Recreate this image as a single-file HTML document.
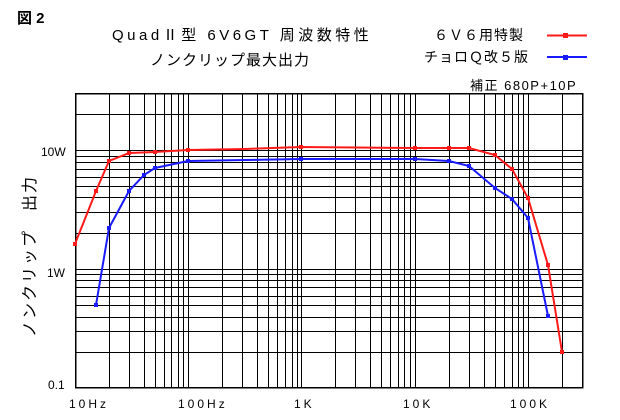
<!DOCTYPE html>
<html><head><meta charset="utf-8"><style>
html,body{margin:0;padding:0;background:#fff;}
svg{display:block;font-family:"Liberation Sans","Noto Sans CJK JP",sans-serif;}
</style></head><body>
<svg width="620" height="420" viewBox="0 0 620 420" xmlns="http://www.w3.org/2000/svg">
<rect width="620" height="420" fill="#fff"/>
<g stroke="#000" stroke-width="1" shape-rendering="crispEdges">
<line x1="75" y1="114.5" x2="583" y2="114.5"/>
<line x1="75" y1="150.5" x2="583" y2="150.5"/>
<line x1="75" y1="156.5" x2="583" y2="156.5"/>
<line x1="75" y1="162.5" x2="583" y2="162.5"/>
<line x1="75" y1="169.5" x2="583" y2="169.5"/>
<line x1="75" y1="177.5" x2="583" y2="177.5"/>
<line x1="75" y1="186.5" x2="583" y2="186.5"/>
<line x1="75" y1="197.5" x2="583" y2="197.5"/>
<line x1="75" y1="212.5" x2="583" y2="212.5"/>
<line x1="75" y1="233.5" x2="583" y2="233.5"/>
<line x1="75" y1="269.5" x2="583" y2="269.5"/>
<line x1="75" y1="274.5" x2="583" y2="274.5"/>
<line x1="75" y1="280.5" x2="583" y2="280.5"/>
<line x1="75" y1="287.5" x2="583" y2="287.5"/>
<line x1="75" y1="296.5" x2="583" y2="296.5"/>
<line x1="75" y1="305.5" x2="583" y2="305.5"/>
<line x1="75" y1="317.5" x2="583" y2="317.5"/>
<line x1="75" y1="331.5" x2="583" y2="331.5"/>
<line x1="75" y1="352.5" x2="583" y2="352.5"/>
</g>
<g stroke="#000" stroke-width="1" shape-rendering="crispEdges">
<line x1="109.5" y1="93" x2="109.5" y2="388"/><line x1="129.5" y1="93" x2="129.5" y2="388"/><line x1="144.5" y1="93" x2="144.5" y2="388"/><line x1="155.5" y1="93" x2="155.5" y2="388"/><line x1="164.5" y1="93" x2="164.5" y2="388"/><line x1="171.5" y1="93" x2="171.5" y2="388"/><line x1="178.5" y1="93" x2="178.5" y2="388"/><line x1="183.5" y1="93" x2="183.5" y2="388"/><line x1="188.5" y1="93" x2="188.5" y2="388"/>
<line x1="222.5" y1="93" x2="222.5" y2="388"/><line x1="242.5" y1="93" x2="242.5" y2="388"/><line x1="257.5" y1="93" x2="257.5" y2="388"/><line x1="268.5" y1="93" x2="268.5" y2="388"/><line x1="277.5" y1="93" x2="277.5" y2="388"/><line x1="285.5" y1="93" x2="285.5" y2="388"/><line x1="292.5" y1="93" x2="292.5" y2="388"/><line x1="297.5" y1="93" x2="297.5" y2="388"/><line x1="301.5" y1="93" x2="301.5" y2="388"/>
<line x1="335.5" y1="93" x2="335.5" y2="388"/><line x1="355.5" y1="93" x2="355.5" y2="388"/><line x1="370.5" y1="93" x2="370.5" y2="388"/><line x1="381.5" y1="93" x2="381.5" y2="388"/><line x1="390.5" y1="93" x2="390.5" y2="388"/><line x1="398.5" y1="93" x2="398.5" y2="388"/><line x1="404.5" y1="93" x2="404.5" y2="388"/><line x1="410.5" y1="93" x2="410.5" y2="388"/><line x1="415.5" y1="93" x2="415.5" y2="388"/>
<line x1="449.5" y1="93" x2="449.5" y2="388"/><line x1="469.5" y1="93" x2="469.5" y2="388"/><line x1="484.5" y1="93" x2="484.5" y2="388"/><line x1="495.5" y1="93" x2="495.5" y2="388"/><line x1="504.5" y1="93" x2="504.5" y2="388"/><line x1="512.5" y1="93" x2="512.5" y2="388"/><line x1="518.5" y1="93" x2="518.5" y2="388"/><line x1="523.5" y1="93" x2="523.5" y2="388"/><line x1="528.5" y1="93" x2="528.5" y2="388"/>
<line x1="562.5" y1="93" x2="562.5" y2="388"/>
</g>
<rect x="75.5" y="93.5" width="507" height="294" fill="none" stroke="#000" stroke-width="1.5" shape-rendering="crispEdges"/>

<polyline fill="none" stroke="#ff1a1a" stroke-width="2" points="75,244 96,191 109,161 129,153 155,152 188,150 245,149 301,147 415,148 449,148 469,148 495,155 512,169 528,198 548,265 562,352"/>
<g fill="#ff1a1a">
<rect x="73" y="242" width="4" height="4"/><rect x="94" y="189" width="4" height="4"/><rect x="107" y="159" width="4" height="4"/><rect x="127" y="151" width="4" height="4"/><rect x="153" y="150" width="4" height="4"/><rect x="186" y="148" width="4" height="4"/><rect x="299" y="145" width="4" height="4"/><rect x="413" y="146" width="4" height="4"/><rect x="447" y="146" width="4" height="4"/><rect x="467" y="146" width="4" height="4"/><rect x="493" y="153" width="4" height="4"/><rect x="510" y="167" width="4" height="4"/><rect x="526" y="196" width="4" height="4"/><rect x="546" y="263" width="4" height="4"/><rect x="560" y="350" width="4" height="4"/>
</g>
<polyline fill="none" stroke="#1a1aff" stroke-width="2" points="96,305 109,228 129,191 144,175 155,168 188,161 245,160 301,159 415,159 449,161 469,166 495,188 512,199 528,218 548,316"/>
<g fill="#1a1aff">
<rect x="94" y="303" width="4" height="4"/><rect x="107" y="226" width="4" height="4"/><rect x="127" y="189" width="4" height="4"/><rect x="142" y="173" width="4" height="4"/><rect x="153" y="166" width="4" height="4"/><rect x="186" y="159" width="4" height="4"/><rect x="299" y="157" width="4" height="4"/><rect x="413" y="157" width="4" height="4"/><rect x="447" y="159" width="4" height="4"/><rect x="467" y="164" width="4" height="4"/><rect x="493" y="186" width="4" height="4"/><rect x="510" y="197" width="4" height="4"/><rect x="526" y="216" width="4" height="4"/><rect x="546" y="314" width="4" height="4"/>
</g>

<g font-size="12" fill="#000">
<text x="41" y="156">10W</text>
<text x="47" y="277">1W</text>
<text x="48" y="389">0.1</text>
<text x="69" y="408" letter-spacing="3">10Hz</text>
<text x="178" y="408" letter-spacing="3">100Hz</text>
<text x="294" y="408" letter-spacing="3">1K</text>
<text x="403" y="408" letter-spacing="3">10K</text>
<text x="510" y="408" letter-spacing="3">100K</text>
</g>
<text x="17" y="23" font-size="15" font-weight="bold">図 2</text>
<text x="112" y="40" font-size="15" letter-spacing="3.5">QuadⅡ型 6V6GT  周波数特性</text>
<text x="150" y="65" font-size="15" letter-spacing="1">ノンクリップ最大出力</text>
<text x="434" y="40" font-size="14" letter-spacing="1">６Ｖ６用特製</text>
<text x="424" y="62" font-size="14" letter-spacing="1">チョロＱ改５版</text>
<text x="470" y="90" font-size="13" letter-spacing="1.5">補正  680P+10P</text>
<line x1="547" y1="35.5" x2="587" y2="35.5" stroke="#ff1a1a" stroke-width="2"/>
<rect x="563" y="33" width="5" height="5" fill="#ff1a1a"/>
<line x1="547" y1="57" x2="587" y2="57" stroke="#1a1aff" stroke-width="2"/>
<rect x="563" y="55" width="5" height="5" fill="#1a1aff"/>
<text transform="translate(35,337) rotate(-90)" font-size="16" letter-spacing="2">ノンクリップ　出力</text>
</svg>
</body></html>
